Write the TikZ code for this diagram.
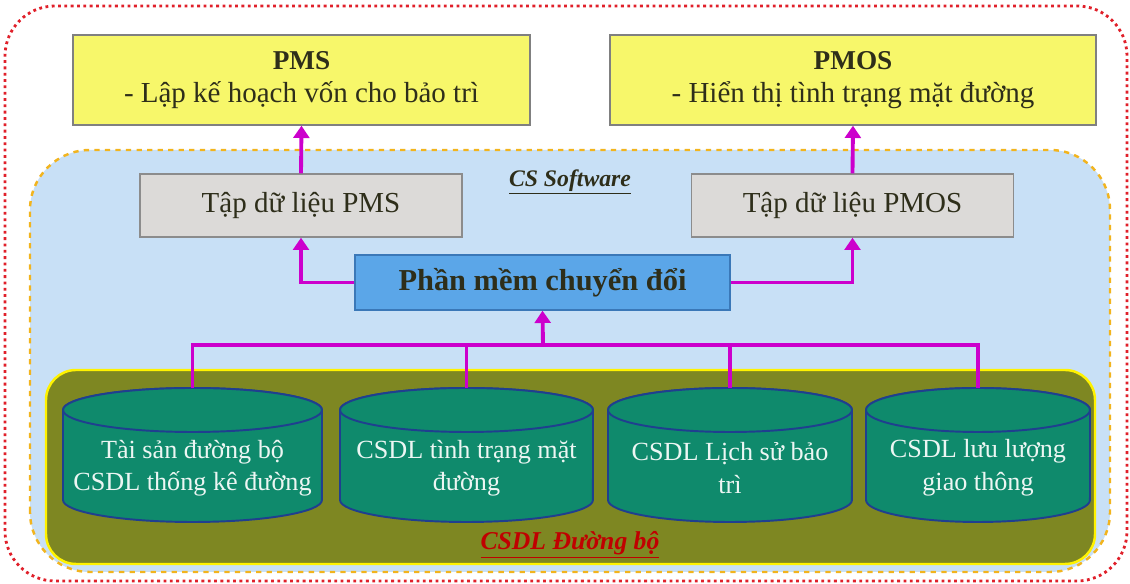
\documentclass[tikz,border=0pt]{standalone}
\usepackage{fontspec}
\setmainfont{Liberation Serif}
\usetikzlibrary{arrows.meta}
\definecolor{ylw}{HTML}{F7F76A}
\definecolor{boxgray}{HTML}{DCDAD8}
\definecolor{lblue}{HTML}{C8E0F6}
\definecolor{convblue}{HTML}{5BA6E8}
\definecolor{convborder}{HTML}{3A78B8}
\definecolor{gold}{HTML}{F2B41E}
\definecolor{reddot}{HTML}{E0202A}
\definecolor{olive}{HTML}{7E8722}
\definecolor{teal}{HTML}{0F8A6C}
\definecolor{cylborder}{HTML}{1F3F8F}
\definecolor{mag}{HTML}{CC00CC}
\definecolor{darkred}{HTML}{C00000}
\definecolor{txt}{HTML}{2E2E1A}
\tikzset{
  topbox/.style={draw=black!50, fill=ylw, line width=0.8pt, minimum height=1.8cm, align=center, text=txt, font=\fontsize{16.5}{19}\selectfont},
  databox/.style={draw=black!45, fill=boxgray, line width=0.8pt, minimum width=6.44cm, minimum height=1.26cm, text=txt, font=\fontsize{16.5}{19}\selectfont},
  convbox/.style={draw=convborder, fill=convblue, line width=0.8pt, minimum width=7.5cm, minimum height=1.1cm, text=txt, font=\fontsize{17.3}{19}\selectfont\bfseries},
  cylshape/.style={draw=cylborder, fill=teal, line width=1.1pt},
  cyltext/.style={align=center, text=white!92!teal, font=\fontsize{14.9}{18.5}\selectfont},
  arr/.style={draw=mag, line width=2.2pt, -{Triangle[length=7pt,width=9pt]}},
  link/.style={draw=mag, line width=2.2pt},
  anchorbox/.style={inner sep=0pt, minimum height=2.68cm},
}
\begin{document}
\begin{tikzpicture}[x=0.02cm,y=0.02cm]
\useasboundingbox (0,0) rectangle (1130,584);
% outer frame
\draw[reddot, line width=1.6pt, dotted, rounded corners=1cm] (5,3) rectangle (1127,578);
% PMS / PMOS boxes
\node[topbox, minimum width=9.14cm] (pms) at (301.5,504) {{\fontsize{15.5}{19}\selectfont\textbf{PMS}}\\- Lập kế hoạch vốn cho bảo trì};
\node[topbox, minimum width=9.72cm] (pmos) at (853,504) {{\fontsize{15.5}{19}\selectfont\textbf{PMOS}}\\- Hiển thị tình trạng mặt đường};
% CS Software region
\draw[gold, line width=1.4pt, dashed, fill=lblue, rounded corners=1.2cm] (30,12) rectangle (1110,434);
\node[font=\fontsize{13.5}{16}\selectfont\bfseries\itshape, text=txt] (cs) at (570,402) {\underline{CS Software}};
\node[databox] (pmsdata) at (301,378.5) {Tập dữ liệu PMS};
\node[databox] (pmosdata) at (852.5,378.5) {Tập dữ liệu PMOS};
\node[convbox] (conv) at (542.5,301.5) {Phần mềm chuyển đổi};
% database panel
\draw[yellow, line width=1.4pt, fill=olive, rounded corners=0.6cm] (46,20) rectangle (1095,214);
% cylinders
\node[anchorbox, minimum width=5.18cm] (c1) at (192.5,129) {};
\node[anchorbox, minimum width=5.06cm] (c2) at (466.5,129) {};
\node[anchorbox, minimum width=4.88cm] (c3) at (730,129) {};
\node[anchorbox, minimum width=4.48cm] (c4) at (978,129) {};
\path[cylshape] (63,174) -- (63,84) arc[start angle=180,end angle=360,x radius=2.59cm,y radius=0.44cm] -- (322,174) arc[start angle=0,end angle=180,x radius=2.59cm,y radius=0.44cm] -- cycle;
\path[cylshape] (192.5,174) ellipse[x radius=2.59cm,y radius=0.44cm];
\path[cylshape] (340,174) -- (340,84) arc[start angle=180,end angle=360,x radius=2.53cm,y radius=0.44cm] -- (593,174) arc[start angle=0,end angle=180,x radius=2.53cm,y radius=0.44cm] -- cycle;
\path[cylshape] (466.5,174) ellipse[x radius=2.53cm,y radius=0.44cm];
\path[cylshape] (608,174) -- (608,84) arc[start angle=180,end angle=360,x radius=2.44cm,y radius=0.44cm] -- (852,174) arc[start angle=0,end angle=180,x radius=2.44cm,y radius=0.44cm] -- cycle;
\path[cylshape] (730,174) ellipse[x radius=2.44cm,y radius=0.44cm];
\path[cylshape] (866,174) -- (866,84) arc[start angle=180,end angle=360,x radius=2.24cm,y radius=0.44cm] -- (1090,174) arc[start angle=0,end angle=180,x radius=2.24cm,y radius=0.44cm] -- cycle;
\path[cylshape] (978,174) ellipse[x radius=2.24cm,y radius=0.44cm];
\node[cyltext] (t1) at (192.5,116) {Tài sản đường bộ\\CSDL thống kê đường};
\node[cyltext] (t2) at (466.5,116) {CSDL tình trạng mặt\\đường};
\node[cyltext] (t3) at (730,116) {CSDL L^^^^1ecbch s^^^^1eed b^^^^1ea3o\\tr^^^^00ec};
\node[cyltext] (t4) at (978,116) {CSDL lưu lượng\\giao thông};
\node[font=\fontsize{14.6}{16}\selectfont\bfseries\itshape, text=darkred] (csdl) at (570,39) {\underline{CSDL Đường bộ}};
% connectors
\coordinate (bus) at (543,239);
\draw[arr] (pmsdata.north) -- (pms.south);
\draw[arr] (pmosdata.north) -- (pmos.south);
\draw[arr] (conv.west) -| (pmsdata.south);
\draw[arr] (conv.east) -| (pmosdata.south);
\draw[link] (c1.north) |- (bus) -| (c4.north);
\draw[link] (c2.north) |- (bus);
\draw[link] (c3.north) |- (bus);
\draw[arr] (bus) -- (conv.south);
\end{tikzpicture}
\end{document}
